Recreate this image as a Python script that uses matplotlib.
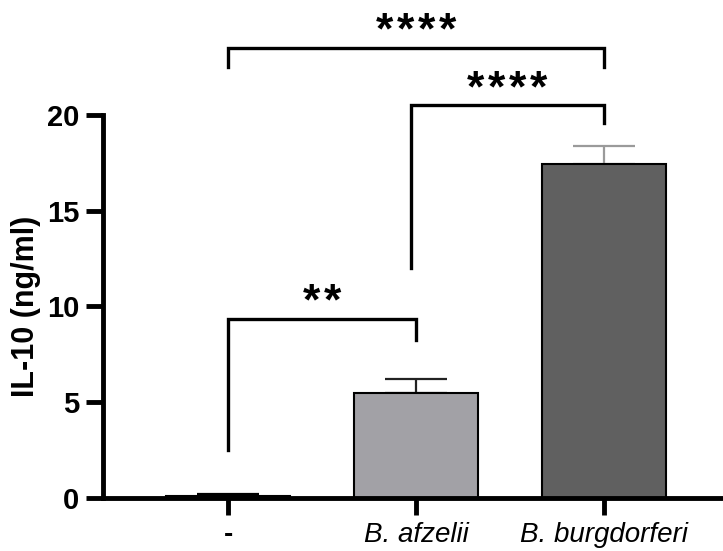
import matplotlib.pyplot as plt
import numpy as np

# data
groups = ['-', 'B. afzelii', 'B. burgdorferi']
means = [0.12, 5.48, 17.44]
errs = [0.1, 0.72, 0.94]
bar_colors = ['white', '#a2a1a6', '#606060']
err_colors = ['black', '#222222', '#9a9a9a']

# significance brackets: (x1, x2, y, left leg bottom, right leg bottom, label)
brackets = [
    (0, 1, 9.35, 2.5, 8.25, '**'),
    (0.973, 2, 20.5, 12.0, 19.6, '****'),
    (0, 2, 23.5, 22.5, 22.5, '****'),
]

plt.rcParams['font.family'] = ['Liberation Sans', 'DejaVu Sans']

fig = plt.figure(figsize=(7.23, 5.51), dpi=100)
ax = fig.add_axes([103 / 723, 53 / 551, 620 / 723, 498 / 551])

x = np.arange(len(groups))
ax.bar(x, means, width=0.66, color=bar_colors, edgecolor='black', linewidth=1.5, zorder=2)
for i in range(len(groups)):
    ax.errorbar(x[i], means[i], yerr=[[0], [errs[i]]], ecolor=err_colors[i],
                elinewidth=1.6, capsize=22, capthick=1.6, fmt='none', zorder=1)

# brackets
for x1, x2, y, b1, b2, lab in brackets:
    ax.plot([x1, x1, x2, x2], [b1, y, y, b2], color='black', lw=2.4,
            solid_joinstyle='miter', clip_on=False, zorder=3)
    ax.text((x1 + x2) / 2, y + 0.2, '\u200a'.join(lab), ha='center', va='baseline',
            fontsize=32, fontweight='bold', clip_on=False)

ax.set_xlim(-0.665, 2.633)
ax.set_ylim(0, 26)
ax.spines['top'].set_visible(False)
ax.spines['right'].set_visible(False)
ax.spines['left'].set_bounds(0, 20)
ax.spines['left'].set_linewidth(3.5)
ax.spines['bottom'].set_linewidth(3.5)

ax.set_yticks([0, 5, 10, 15, 20])
ax.set_yticklabels(['0', '5', '10', '15', '20'], fontsize=21, fontweight='bold')
ax.set_xticks(x)
ax.set_xticklabels(groups, fontsize=20)
for lbl in ax.get_xticklabels()[1:]:
    lbl.set_style('italic')
ax.get_xticklabels()[0].set_fontweight('bold')
ax.tick_params(axis='both', width=3.5, length=12, direction='out')
ax.tick_params(axis='y', pad=5)
ax.tick_params(axis='x', pad=5)
ax.set_ylabel('IL-10 (ng/ml)', fontsize=22, fontweight='bold')
ax.yaxis.set_label_coords(-0.10, 10 / 26)

fig.savefig('out.png', dpi=100)
